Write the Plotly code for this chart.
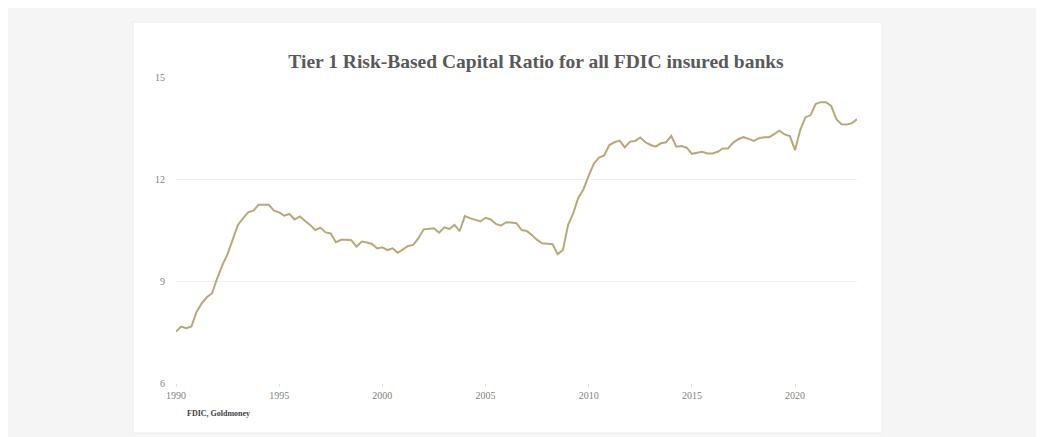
import plotly.graph_objects as go
import pandas as pd

# Quarterly Tier 1 risk-based capital ratio (%), 1990Q1 .. 2023Q1
start_quarter = "1990-01-01"
ratio = [
    7.51, 7.66, 7.61, 7.66,      # 1990
    8.10, 8.34, 8.52, 8.64,      # 1991
    9.08, 9.47, 9.79, 10.21,     # 1992
    10.65, 10.84, 11.02, 11.07,  # 1993
    11.24, 11.24, 11.24, 11.07,  # 1994
    11.02, 10.92, 10.97, 10.81,  # 1995
    10.90, 10.77, 10.65, 10.50,  # 1996
    10.57, 10.43, 10.40, 10.14,  # 1997
    10.21, 10.21, 10.20, 10.01,  # 1998
    10.16, 10.13, 10.09, 9.96,   # 1999
    9.99, 9.91, 9.96, 9.83,      # 2000
    9.93, 10.03, 10.06, 10.26,   # 2001
    10.52, 10.53, 10.55, 10.42,  # 2002
    10.58, 10.53, 10.65, 10.47,  # 2003
    10.91, 10.85, 10.81, 10.75,  # 2004
    10.86, 10.81, 10.68, 10.63,  # 2005
    10.73, 10.72, 10.70, 10.50,  # 2006
    10.47, 10.35, 10.21, 10.11,  # 2007
    10.09, 10.08, 9.79, 9.91,    # 2008
    10.65, 10.99, 11.45, 11.70,  # 2009
    12.10, 12.45, 12.63, 12.69,  # 2010
    13.00, 13.08, 13.13, 12.93,  # 2011
    13.10, 13.12, 13.22, 13.08,  # 2012
    13.00, 12.95, 13.05, 13.08,  # 2013
    13.27, 12.95, 12.97, 12.92,  # 2014
    12.74, 12.78, 12.80, 12.75,  # 2015
    12.75, 12.80, 12.90, 12.90,  # 2016
    13.07, 13.17, 13.23, 13.18,  # 2017
    13.12, 13.20, 13.23, 13.23,  # 2018
    13.32, 13.42, 13.31, 13.26,  # 2019
    12.85, 13.44, 13.81, 13.88,  # 2020
    14.21, 14.26, 14.26, 14.15,  # 2021
    13.76, 13.61, 13.60, 13.64,  # 2022
    13.76,                       # 2023
]
x_tick_years = ["1990", "1995", "2000", "2005", "2010", "2015", "2020"]
y_ticks = [6, 9, 12, 15]

title_text = "Tier 1 Risk-Based Capital Ratio for all FDIC insured banks"
source_text = "FDIC, Goldmoney"

dates = pd.date_range(start_quarter, periods=len(ratio), freq="QS")

fig = go.Figure()
fig.add_trace(go.Scatter(
    x=dates, y=ratio, mode="lines",
    line=dict(color="#b9a877", width=2),
    hoverinfo="skip", showlegend=False,
))

W, H = 1044, 437
OFF = 8  # page body margin offset
# target screen-space plot area: x 176..857, y 77..383
ml, mt = 176 - OFF, 77 - OFF
mr = W - (857 - OFF)
mb = H - (383 - OFF)
pw, ph = W - ml - mr, H - mt - mb

def px_x(p):
    return (p - OFF - ml) / pw

def px_y(p):
    return (H - mb - (p - OFF)) / ph

# white panel
fig.add_shape(type="rect", xref="paper", yref="paper",
              x0=px_x(133), x1=px_x(882), y0=px_y(433), y1=px_y(22),
              fillcolor="white", line=dict(color="#ececec", width=1), layer="below")

fig.update_layout(
    width=W, height=H,
    margin=dict(l=ml, r=mr, t=mt, b=mb, pad=0),
    paper_bgcolor="#f5f5f5",
    plot_bgcolor="white",
    title=dict(text=title_text, x=px_x(536), xanchor="center", xref="paper",
               y=1 - (61 - OFF) / H, yanchor="middle",
               font=dict(family="Liberation Serif", size=19.5, color="#595959", weight="bold")),
    xaxis=dict(
        range=[dates[0], dates[-1]],
        tickvals=[pd.Timestamp(y + "-01-01") for y in x_tick_years],
        ticktext=x_tick_years,
        showgrid=False, zeroline=False,
        showline=False,
        ticks="outside", ticklen=3, tickcolor="#e0e0e0",
        tickfont=dict(family="Liberation Serif", size=10, color="#7f7f7f"),
        fixedrange=True,
    ),
    yaxis=dict(
        range=[6, 15], tickvals=y_ticks,
        showgrid=True, gridcolor="#efefef", gridwidth=1,
        zeroline=False, showline=False, ticks="",
        ticklabelstandoff=10,
        tickfont=dict(family="Liberation Serif", size=10, color="#7f7f7f"),
        fixedrange=True,
    ),
    annotations=[dict(
        text=source_text, xref="paper", yref="paper",
        x=px_x(185), y=px_y(413), xanchor="left", yanchor="middle",
        showarrow=False,
        font=dict(family="Liberation Serif", size=8, color="#404040", weight="bold"),
    )],
)

fig.write_html("out.html")
